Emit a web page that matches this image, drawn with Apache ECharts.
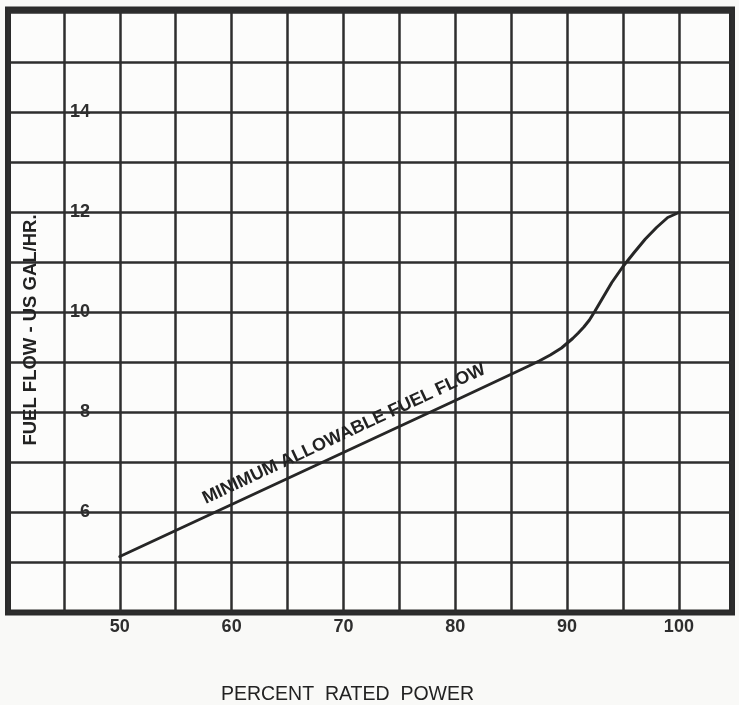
<!DOCTYPE html>
<html><head><meta charset="utf-8">
<script src="https://cdn.jsdelivr.net/npm/echarts@6/dist/echarts.min.js"></script>
<style>html,body{margin:0;padding:0;background:#f9f9f7;} #c{width:739px;height:705px;}</style>
</head><body><div id="c"></div>
<script>
const powerPct = [50, 60, 70, 80, 84, 86, 87.5, 88.5, 89.5, 90.5, 91, 91.5, 92, 92.5, 93, 93.5, 94, 95, 96, 97, 98, 99, 100];
const fuelFlow = [5.12, 6.16, 7.20, 8.24, 8.66, 8.87, 9.03, 9.15, 9.29, 9.48, 9.59, 9.71, 9.85, 10.03, 10.22, 10.41, 10.60, 10.92, 11.20, 11.47, 11.70, 11.90, 12.0];
const xTickLabels = [50, 60, 70, 80, 90, 100];
const yTickLabels = [6, 8, 10, 12, 14];
const curveLabel = 'MINIMUM ALLOWABLE FUEL FLOW';
const xTitle = 'PERCENT  RATED  POWER';
const yTitle = 'FUEL FLOW - US GAL/HR.';

const FONT = "'Liberation Sans', Arial, Helvetica, sans-serif";
const INK = '#222222';

const chart = echarts.init(document.getElementById('c'), null, {renderer: 'canvas'});
chart.setOption({
  backgroundColor: '#f9f9f7',
  animation: false,
  grid: {
    left: 8, right: 7, top: 9.5, bottom: 92.5,
    show: true, borderWidth: 6, borderColor: '#2a2a2a', backgroundColor: '#fcfcfb',
    containLabel: false, outerBoundsMode: 'none'
  },
  xAxis: {
    type: 'value', min: 40, max: 104.75, interval: 5,
    axisLine: {show: false}, axisTick: {show: false},
    splitLine: {show: true, lineStyle: {color: '#2e2e2e', width: 2.5}},
    axisLabel: {
      margin: 6, fontSize: 18, fontWeight: 'bold', color: '#2e2e2e', fontFamily: FONT,
      formatter: v => xTickLabels.includes(v) ? String(v) : ''
    },
    name: xTitle, nameLocation: 'middle', nameGap: 72,
    nameTextStyle: {fontSize: 19.5, color: '#222', fontFamily: FONT, padding: [0, 45, 0, 0]}
  },
  yAxis: {
    type: 'value', min: 4, max: 16.06, interval: 1, offset: -86,
    axisLine: {show: false}, axisTick: {show: false},
    splitLine: {show: true, lineStyle: {color: '#2e2e2e', width: 2.5}},
    axisLabel: {
      margin: 4, fontSize: 18, fontWeight: 'bold', color: '#2e2e2e', fontFamily: FONT,
      formatter: v => yTickLabels.includes(v) ? String(v) : ''
    },
    name: yTitle, nameLocation: 'middle', nameGap: 54,
    nameTextStyle: {fontSize: 18.5, fontWeight: 'bold', color: '#222', fontFamily: FONT, padding: [0, 38, 0, 0]}
  },
  series: [
    {
      type: 'line',
      data: powerPct.map((x, i) => [x, fuelFlow[i]]),
      symbol: 'none', smooth: false,
      lineStyle: {color: '#262626', width: 3, join: 'round', cap: 'round'},
      z: 5, silent: true
    },
    {
      type: 'scatter',
      data: [[70.05, 7.57]],
      symbol: 'circle', symbolSize: 1,
      itemStyle: {color: '#222', opacity: 1},
      label: {
        show: true, position: 'inside', rotate: 25,
        formatter: () => curveLabel,
        fontSize: 18, fontWeight: 'bold', color: INK, fontFamily: FONT,
        textBorderWidth: 0, opacity: 1
      },
      z: 6, silent: true
    }
  ]
});
</script>
</body></html>
